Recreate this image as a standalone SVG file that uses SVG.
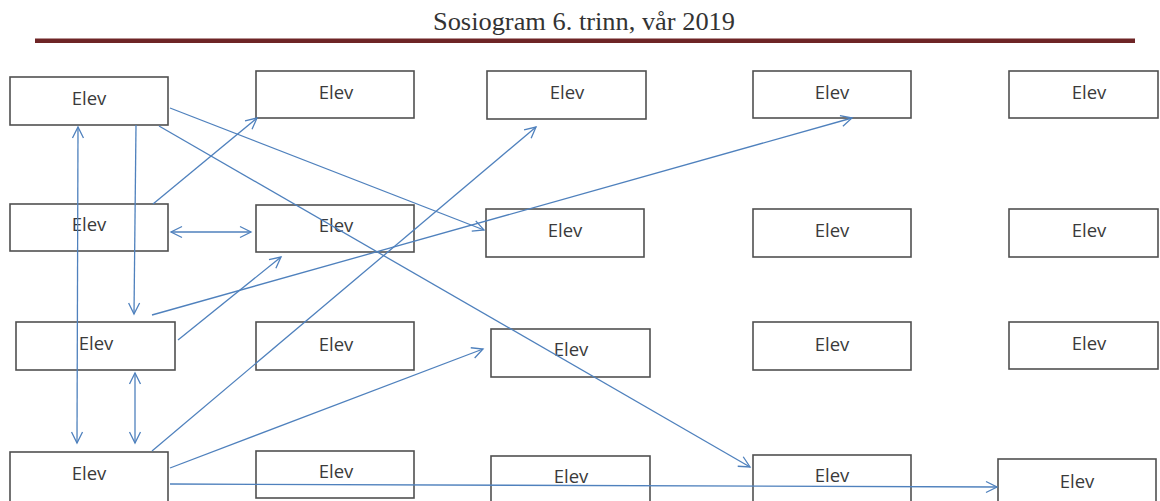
<svg xmlns="http://www.w3.org/2000/svg" width="1160" height="501" viewBox="0 0 1160 501">
<defs>
<style>
.box{fill:none;stroke:#505050;stroke-width:1.6}
.lbl{font-family:"Open Sans","Liberation Sans",Arial,sans-serif;font-size:18.5px;fill:#3a3a3a;text-anchor:middle}
.title{font-family:"Liberation Serif","DejaVu Serif",serif;font-size:25px;fill:#333;text-anchor:middle}
.c{fill:none;stroke:#4f81bd;stroke-width:1.3}
</style>
<marker id="ah" markerUnits="userSpaceOnUse" markerWidth="14" markerHeight="14" viewBox="0 0 14 14" refX="12" refY="7" orient="auto-start-reverse">
<path d="M1,1.5 L12,7 L1,12.5" fill="none" stroke="#4f81bd" stroke-width="1.3"/>
</marker>
</defs>
<rect width="1160" height="501" fill="#fff"/>
<g id="title">
<text class="title" x="584" y="30" textLength="302" lengthAdjust="spacingAndGlyphs">Sosiogram 6. trinn, vår 2019</text>
<rect x="35" y="38.5" width="1100" height="4.5" fill="#6e2526"/>
</g>
<g id="nodes">
<g id="a1"><rect class="box" x="10" y="77" width="158" height="48"/><text class="lbl" x="89" y="105">Elev</text></g>
<g id="b1"><rect class="box" x="256" y="71" width="158" height="47"/><text class="lbl" x="336" y="99">Elev</text></g>
<g id="c1"><rect class="box" x="487" y="71" width="159" height="48"/><text class="lbl" x="567" y="99">Elev</text></g>
<g id="d1"><rect class="box" x="753" y="71" width="158" height="47"/><text class="lbl" x="832" y="99">Elev</text></g>
<g id="e1"><rect class="box" x="1009" y="71" width="149" height="47"/><text class="lbl" x="1089" y="99">Elev</text></g>

<g id="a2"><rect class="box" x="10" y="204" width="158" height="47"/><text class="lbl" x="89" y="231">Elev</text></g>
<g id="b2"><rect class="box" x="256" y="205" width="158" height="47"/><text class="lbl" x="336" y="232">Elev</text></g>
<g id="c2"><rect class="box" x="486" y="209" width="158" height="48"/><text class="lbl" x="565" y="237">Elev</text></g>
<g id="d2"><rect class="box" x="753" y="209" width="158" height="48"/><text class="lbl" x="832" y="237">Elev</text></g>
<g id="e2"><rect class="box" x="1009" y="209" width="149" height="48"/><text class="lbl" x="1089" y="237">Elev</text></g>

<g id="a3"><rect class="box" x="16" y="322" width="159" height="48"/><text class="lbl" x="96" y="350">Elev</text></g>
<g id="b3"><rect class="box" x="256" y="322" width="158" height="48"/><text class="lbl" x="336" y="351">Elev</text></g>
<g id="c3"><rect class="box" x="491" y="329" width="159" height="48"/><text class="lbl" x="571" y="356">Elev</text></g>
<g id="d3"><rect class="box" x="753" y="322" width="158" height="48"/><text class="lbl" x="832" y="351">Elev</text></g>
<g id="e3"><rect class="box" x="1009" y="322" width="149" height="47"/><text class="lbl" x="1089" y="350">Elev</text></g>

<g id="a4"><rect class="box" x="10" y="452" width="158" height="50"/><text class="lbl" x="89" y="480">Elev</text></g>
<g id="b4"><rect class="box" x="256" y="451" width="158" height="47"/><text class="lbl" x="336" y="478">Elev</text></g>
<g id="c4"><rect class="box" x="491" y="456" width="159" height="47"/><text class="lbl" x="571" y="483">Elev</text></g>
<g id="d4"><rect class="box" x="753" y="455" width="158" height="48"/><text class="lbl" x="832" y="482">Elev</text></g>
<g id="e4"><rect class="box" x="998" y="459" width="158" height="44"/><text class="lbl" x="1077" y="488">Elev</text></g>
</g>
<g id="connectors">
<line class="c" x1="170" y1="108" x2="484" y2="230" marker-end="url(#ah)"/>
<line class="c" x1="159" y1="126" x2="750" y2="467" marker-end="url(#ah)"/>
<line class="c" x1="136" y1="125" x2="134" y2="314" marker-end="url(#ah)"/>
<line class="c" x1="78" y1="127" x2="77" y2="443" marker-start="url(#ah)" marker-end="url(#ah)"/>
<line class="c" x1="153" y1="204" x2="257" y2="118" marker-end="url(#ah)"/>
<line class="c" x1="171" y1="232" x2="251" y2="232" marker-start="url(#ah)" marker-end="url(#ah)"/>
<line class="c" x1="152" y1="315" x2="852" y2="118" marker-end="url(#ah)"/>
<line class="c" x1="178" y1="340" x2="281" y2="257" marker-end="url(#ah)"/>
<line class="c" x1="135" y1="373" x2="135" y2="443" marker-start="url(#ah)" marker-end="url(#ah)"/>
<line class="c" x1="152" y1="451" x2="536" y2="127" marker-end="url(#ah)"/>
<line class="c" x1="170" y1="468" x2="483" y2="349" marker-end="url(#ah)"/>
<line class="c" x1="170" y1="484" x2="997" y2="487" marker-end="url(#ah)"/>
</g>
</svg>
